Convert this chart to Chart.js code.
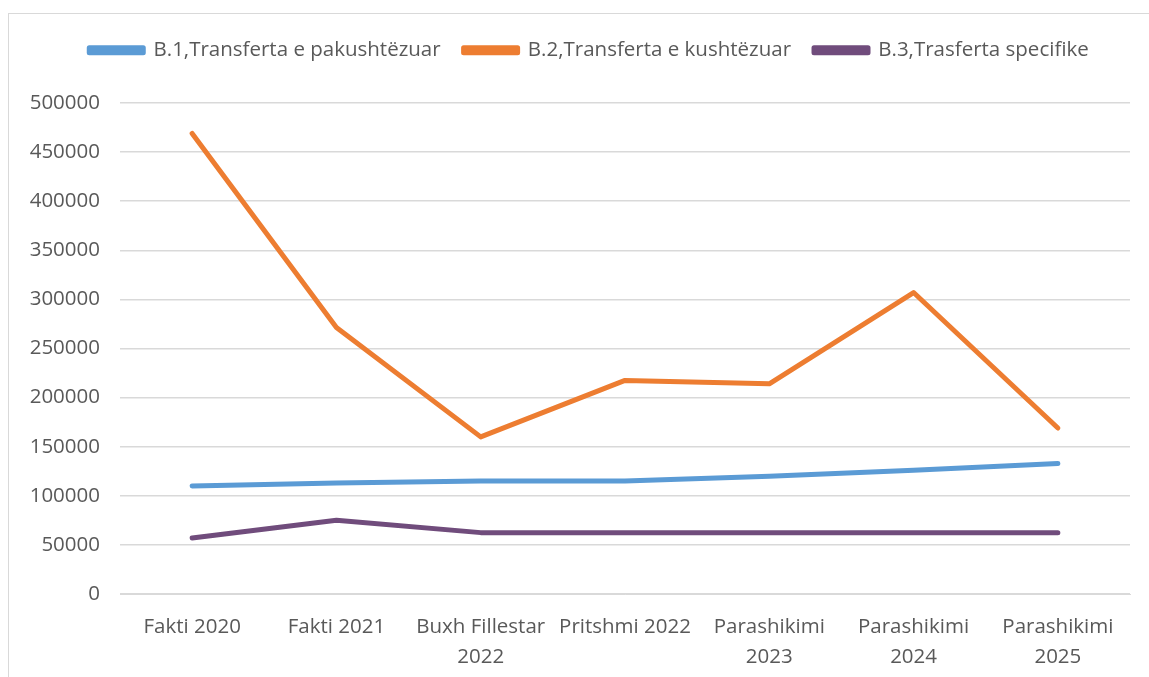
<!DOCTYPE html>
<html lang="sq">
<head>
  <meta charset="UTF-8">
  <title>Transferta</title>
  <script src="https://cdn.jsdelivr.net/npm/chart.js"></script>
  <style>
    body { margin: 0; background: #fff; }
    #frame { position: absolute; left: 8px; top: 13px; width: 1200px; height: 700px; border: 1px solid #d9d9d9; }
    #wrap { position: absolute; left: 0; top: 0; width: 1149px; height: 677px; }
  </style>
</head>
<body>
  <div id="frame"></div>
  <div id="wrap"><canvas id="chart" width="1149" height="677"></canvas></div>

  <script>
    // categories and series
    const categories = [
      'Fakti 2020', 'Fakti 2021', ['Buxh Fillestar', '2022'], 'Pritshmi 2022',
      ['Parashikimi', '2023'], ['Parashikimi', '2024'], ['Parashikimi', '2025']
    ];
    const seriesNames = [
      'B.1,Transferta e pakushtëzuar',
      'B.2,Transferta e kushtëzuar',
      'B.3,Trasferta specifike'
    ];
    const pakushtezuar = [110000, 113000, 115000, 115000, 120000, 126000, 133000];
    const kushtezuar = [469000, 271500, 160000, 217500, 214000, 307000, 169000];
    const specifike = [57000, 75000, 62500, 62500, 62500, 62500, 62500];
    const colors = ['#5b9bd5', '#ed7d31', '#704c7c'];

    const fontFamily = '"Open Sans", Lato, sans-serif';
    const fontSize = 20.5;
    const textColor = '#595959';

    function line(label, data, color) {
      return {
        label: label,
        data: data,
        borderColor: color,
        backgroundColor: color,
        borderWidth: 5,
        borderCapStyle: 'round',
        borderJoinStyle: 'round',
        pointRadius: 0,
        tension: 0,
        fill: false
      };
    }

    // legend box reaches down to the top of the plot area,
    // and sits a bit right of the canvas centre like the original
    const legendFix = {
      id: 'legendFix',
      beforeUpdate(chart) {
        const lg = chart.legend;
        if (lg && !lg._fixed) {
          const fit = lg.fit;
          lg.fit = function () { fit.call(this); this.height = 86; };
          const draw = lg.draw;
          lg.draw = function () {
            this.left += 24; this.right += 24;
            draw.apply(this, arguments);
            this.left -= 24; this.right -= 24;
          };
          lg._fixed = true;
        }
      }
    };

    new Chart(document.getElementById('chart').getContext('2d'), {
      type: 'line',
      data: {
        labels: categories,
        datasets: [
          line(seriesNames[0], pakushtezuar, colors[0]),
          line(seriesNames[1], kushtezuar, colors[1]),
          line(seriesNames[2], specifike, colors[2])
        ]
      },
      plugins: [legendFix],
      options: {
        responsive: false,
        animation: false,
        layout: { padding: { left: 0, right: 19, top: 17, bottom: 0 } },
        plugins: {
          tooltip: { enabled: false },
          legend: {
            position: 'top',
            labels: {
              boxWidth: 54,
              boxHeight: 5,
              padding: 23,
              color: textColor,
              font: { family: fontFamily, size: fontSize }
            }
          }
        },
        scales: {
          x: {
            offset: true,
            grid: { display: false },
            border: { color: '#d9d9d9' },
            ticks: {
              color: textColor,
              font: { family: fontFamily, size: fontSize, lineHeight: 1.46 },
              maxRotation: 0,
              autoSkip: false,
              padding: 10
            },
            afterFit: function (scale) { scale.height = 83; }
          },
          y: {
            min: 0,
            max: 500000,
            ticks: {
              stepSize: 50000,
              color: textColor,
              font: { family: fontFamily, size: fontSize },
              padding: 20,
              callback: function (v) { return String(v); }
            },
            grid: { color: '#d9d9d9', lineWidth: 1.5, drawTicks: false },
            border: { display: false },
            afterFit: function (scale) { scale.width = 120; }
          }
        }
      }
    });
  </script>
</body>
</html>
